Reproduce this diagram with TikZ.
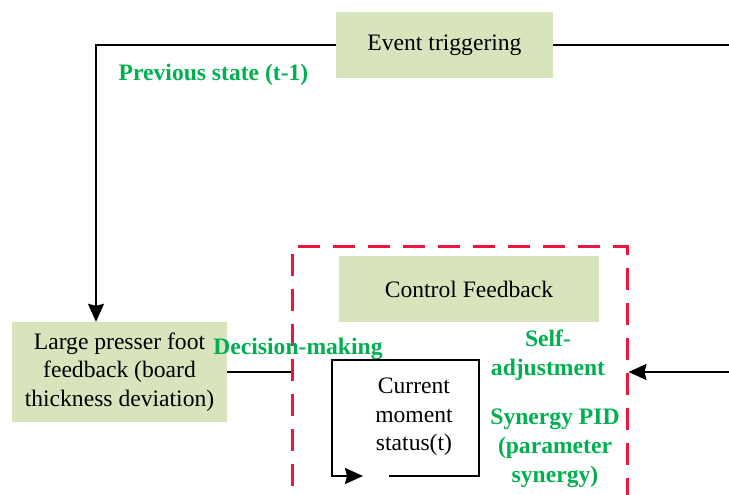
\documentclass[tikz,border=0pt]{standalone}
\usepackage{fontspec}
\setmainfont{Liberation Serif}
\usepackage{tikz}
\usetikzlibrary{arrows.meta, positioning, calc}

\definecolor{boxgreen}{RGB}{216,228,188}
\definecolor{txtgreen}{RGB}{0,176,80}
\definecolor{dashred}{RGB}{237,20,61}

\begin{document}
\begin{tikzpicture}[x=1pt, y=1pt,
	font=\fontsize{23.6}{28.5}\selectfont,
	greenbox/.style={fill=boxgreen, inner sep=0pt, align=center},
	greenlabel/.style={text=txtgreen, font=\fontsize{23.6}{29}\selectfont\bfseries, align=center, inner sep=0pt},
	link/.style={line width=2pt},
	tip/.style={-{Stealth[length=18pt, width=16pt, inset=2pt]}}]
	\useasboundingbox (0,0) rectangle (729,495);
	% boxes
	\node[greenbox, minimum width=217pt, minimum height=66pt] (ev) at (444.5,450) {Event triggering};
	\node[greenbox, minimum width=215pt, minimum height=100pt] (lp) at (119.5,123) {Large presser foot\\feedback (board\\thickness deviation)};
	\node[draw=dashred, line width=3pt, dash pattern=on 22pt off 13pt, minimum width=335pt, minimum height=268pt] (grp) at (459.5,114) {};
	\node[greenbox, minimum width=260pt, minimum height=66pt] (cf) at (469,206) {Control Feedback};
	\node[align=center, inner sep=0pt] (cur) at (414,78) {Current\\moment\\status(t)};
	% labels
	\node[greenlabel] (prev) at (213.5,420) {Previous state (t-1)};
	\node[greenlabel] (dm) at (298,146) {Decision-making};
	\node[greenlabel] (self) at (548,140) {Self-\\adjustment};
	\node[greenlabel] (syn) at (555,47) {Synergy PID\\(parameter\\synergy)};
	% free ends
	\coordinate (re) at (729,450);
	\coordinate (ri) at (729,123);
	\coordinate (c1) at (389,19);
	\coordinate (c2) at (479,135);
	\coordinate (c3) at (332,135);
	\coordinate (c4) at (363,19);
	% connectors
	\draw[link, tip] (ev.west) -| ([xshift=-23.5pt]lp.north);
	\draw[link] (ev.east) -- (re);
	\draw[link] (lp.east) -- (grp.west |- lp.east);
	\draw[link, tip] (ri) -- (grp.east |- ri);
	\draw[link, tip] (c1) -| (c2) -| (c3) |- (c4);
\end{tikzpicture}
\end{document}
